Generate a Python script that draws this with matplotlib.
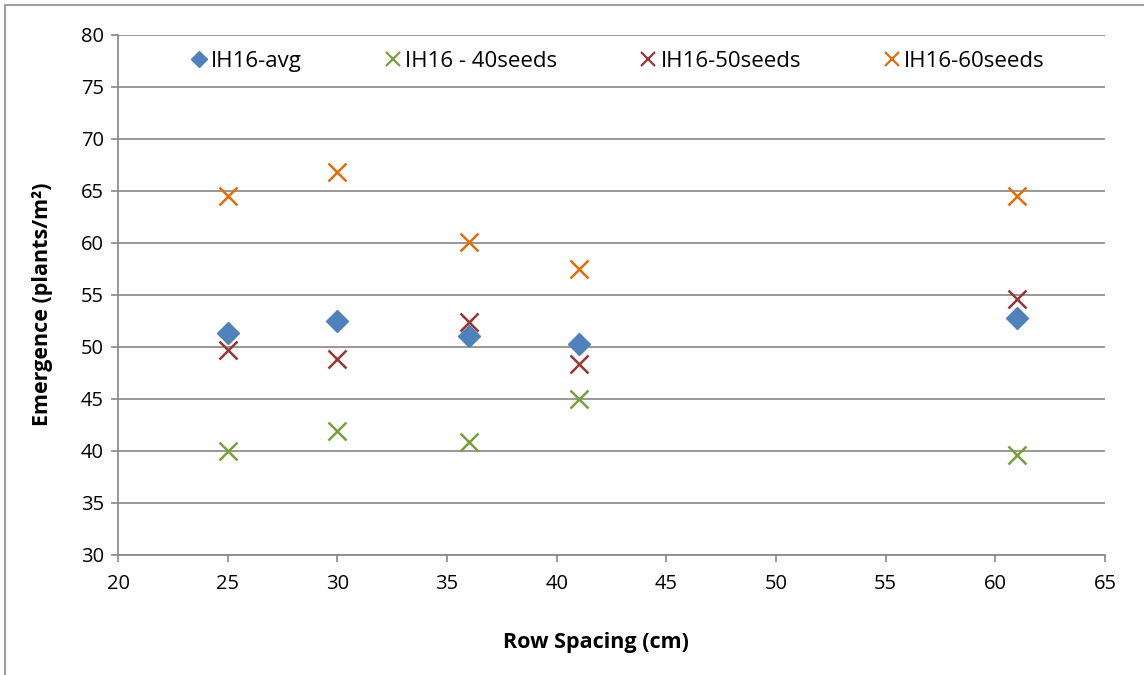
import matplotlib
matplotlib.use("Agg")
import matplotlib.pyplot as plt
from matplotlib.lines import Line2D

plt.rcParams['font.family'] = ['Open Sans', 'DejaVu Sans']

# row spacing (cm)
spacing = [25, 30, 36, 41, 61]

# emergence (plants/m2)
avg = [51.35, 52.5, 51.1, 50.25, 52.8]
seeds40 = [40.0, 41.9, 40.85, 45.0, 39.6]
seeds50 = [49.75, 48.85, 52.4, 48.35, 54.6]
seeds60 = [64.5, 66.8, 60.1, 57.5, 64.5]

labels = ["IH16-avg", "IH16 - 40seeds", "IH16-50seeds", "IH16-60seeds"]
xticks = list(range(20, 66, 5))
yticks = list(range(30, 81, 5))

grey = '#868686'

fig = plt.figure(figsize=(11.44, 6.75), dpi=100)
ax = fig.add_axes([118/1144, 1-555/675, 987/1144, 520/675])

ax.plot(spacing, avg, 'D', color='#4F81BD', markersize=11.5, label=labels[0], zorder=3)
ax.plot(spacing, seeds40, 'x', color='#77A03C', markersize=13, mew=1.8, label=labels[1], zorder=3)
ax.plot(spacing, seeds50, 'x', color='#953735', markersize=13, mew=1.8, label=labels[2], zorder=3)
ax.plot(spacing, seeds60, 'x', color='#E46C0A', markersize=13, mew=1.8, label=labels[3], zorder=3)

ax.set_xlim(20, 65)
ax.set_ylim(30, 80)
ax.set_xticks(xticks)
ax.set_yticks(yticks)
ax.grid(axis='y', color=grey, linewidth=1.2)
ax.set_axisbelow(True)

for s in ['top', 'right']:
    ax.spines[s].set_visible(False)
for s in ['left', 'bottom']:
    ax.spines[s].set_color(grey)
    ax.spines[s].set_linewidth(1.2)
ax.tick_params(axis='both', direction='out', length=5, width=1.2, color=grey,
               labelsize=14.5, labelcolor='black')
ax.tick_params(axis='x', pad=9)
ax.tick_params(axis='y', pad=5)

ax.set_xlabel("Row Spacing (cm)", fontsize=15.5, fontweight='bold')
ax.set_ylabel("Emergence (plants/m²)", fontsize=15.5, fontweight='bold')
ax.xaxis.set_label_coords(0.484, -0.169)
ax.yaxis.set_label_coords(-0.077, 0.483)
ax.xaxis.label.set_va('center')
ax.yaxis.label.set_va('center')

handles = [
    Line2D([], [], linestyle='none', marker='D', color='#4F81BD', markersize=8.5),
    Line2D([], [], linestyle='none', marker='x', color='#77A03C', markersize=10, mew=1.6),
    Line2D([], [], linestyle='none', marker='x', color='#953735', markersize=10, mew=1.6),
    Line2D([], [], linestyle='none', marker='x', color='#E46C0A', markersize=10, mew=1.6),
]
ax.legend(handles, labels, loc='upper center', bbox_to_anchor=(0.507, 1.0), ncol=4,
          frameon=False, fontsize=16, handlelength=0.6, handletextpad=0.25,
          columnspacing=3.8, borderaxespad=0.3)

# outer chart frame
fig.add_artist(Line2D([5/1144, 1], [1-5/675, 1-5/675], color='#A0A0A0', lw=1.5,
                      transform=fig.transFigure))
fig.add_artist(Line2D([5/1144, 5/1144], [0, 1-5/675], color='#A0A0A0', lw=1.5,
                      transform=fig.transFigure))

fig.savefig("out.png", dpi=100)
